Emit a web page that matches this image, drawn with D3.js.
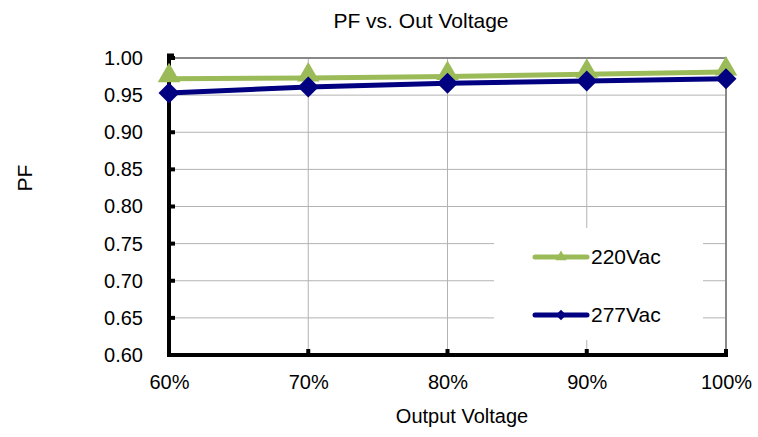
<!DOCTYPE html>
<html>
<head>
<meta charset="utf-8">
<script src="https://cdn.jsdelivr.net/npm/d3@7"></script>
<style>
  body { margin: 0; background: #fff; }
  text { font-family: "Liberation Sans", Arial, sans-serif; fill: #000; }
</style>
</head>
<body>
<div id="wrapper"></div>
<script>
// data
const categories = ["60%", "70%", "80%", "90%", "100%"]
const seriesNames = ["220Vac", "277Vac"]
const values220 = [0.972, 0.973, 0.975, 0.978, 0.981]
const values277 = [0.953, 0.961, 0.966, 0.969, 0.972]
const yTicks = [0.60, 0.65, 0.70, 0.75, 0.80, 0.85, 0.90, 0.95, 1.00]

function drawChart() {
  let dimensions = {
    width: 758,
    height: 437,
    margin: { top: 58, right: 32, bottom: 82, left: 169 }
  }
  dimensions.boundedWidth = dimensions.width - dimensions.margin.left - dimensions.margin.right
  dimensions.boundedHeight = dimensions.height - dimensions.margin.top - dimensions.margin.bottom

  const wrapper = d3.select("#wrapper")
    .append("svg")
      .attr("width", dimensions.width)
      .attr("height", dimensions.height)

  const bounds = wrapper.append("g")
    .attr("transform", `translate(${dimensions.margin.left},${dimensions.margin.top})`)

  // scales
  const xScale = d3.scalePoint()
    .domain(categories)
    .range([0, dimensions.boundedWidth])

  const yScale = d3.scaleLinear()
    .domain([0.60, 1.00])
    .range([dimensions.boundedHeight, 0])

  // gridlines
  bounds.append("g")
    .selectAll("line")
    .data(yTicks)
    .enter().append("line")
      .attr("x1", 0)
      .attr("x2", dimensions.boundedWidth)
      .attr("y1", d => yScale(d))
      .attr("y2", d => yScale(d))
      .attr("stroke", "#b3b3b3")
      .attr("stroke-width", 1)

  bounds.append("g")
    .selectAll("line")
    .data(categories.slice(1, -1))
    .enter().append("line")
      .attr("x1", d => xScale(d))
      .attr("x2", d => xScale(d))
      .attr("y1", 0)
      .attr("y2", dimensions.boundedHeight)
      .attr("stroke", "#b3b3b3")
      .attr("stroke-width", 1)

  // plot border (top & right)
  bounds.append("path")
    .attr("d", `M0,0 H${dimensions.boundedWidth} V${dimensions.boundedHeight}`)
    .attr("fill", "none")
    .attr("stroke", "#888")
    .attr("stroke-width", 2)

  // legend box (covers gridlines)
  const legend = bounds.append("g")
  legend.append("rect")
    .attr("x", 325)
    .attr("y", 170)
    .attr("width", 209)
    .attr("height", 112)
    .attr("fill", "#fff")

  // axes
  const yAxisGenerator = d3.axisLeft(yScale)
    .tickValues(yTicks)
    .tickFormat(d3.format(".2f"))
    .tickSize(0)
    .tickPadding(26)
  const yAxis = bounds.append("g").call(yAxisGenerator)
  yAxis.select(".domain").remove()
  yAxis.selectAll("text").style("font-size", "20px")

  const xAxisGenerator = d3.axisBottom(xScale)
    .tickSize(0)
    .tickPadding(20)
  const xAxis = bounds.append("g")
    .attr("transform", `translate(0,${dimensions.boundedHeight})`)
    .call(xAxisGenerator)
  xAxis.select(".domain").remove()
  xAxis.selectAll("text").style("font-size", "20px")

  // thick axis lines with small inner ticks
  bounds.append("line")
    .attr("x1", 0).attr("x2", 0)
    .attr("y1", -3).attr("y2", dimensions.boundedHeight + 2)
    .attr("stroke", "#000").attr("stroke-width", 4)
  bounds.append("line")
    .attr("x1", -2).attr("x2", 5)
    .attr("y1", -3).attr("y2", -3)
    .attr("stroke", "#000").attr("stroke-width", 3)
  bounds.append("line")
    .attr("x1", -2).attr("x2", dimensions.boundedWidth + 2)
    .attr("y1", dimensions.boundedHeight).attr("y2", dimensions.boundedHeight)
    .attr("stroke", "#000").attr("stroke-width", 4)

  bounds.append("g")
    .selectAll("rect")
    .data(yTicks.slice(1))
    .enter().append("rect")
      .attr("x", 0)
      .attr("y", d => yScale(d) - 2)
      .attr("width", 6)
      .attr("height", 4)
      .attr("fill", "#000")

  bounds.append("g")
    .selectAll("rect")
    .data(categories.slice(1))
    .enter().append("rect")
      .attr("x", d => xScale(d) - 2)
      .attr("y", dimensions.boundedHeight - 6)
      .attr("width", 4)
      .attr("height", 6)
      .attr("fill", "#000")

  // series
  const series = [
    { name: seriesNames[0], values: values220, color: "#9bbb59", marker: "triangle" },
    { name: seriesNames[1], values: values277, color: "#000080", marker: "diamond" }
  ]

  const markerPath = (type, big) => type === "triangle"
    ? d3.symbol().type(d3.symbolTriangle).size(big ? 220 : 55)()
    : d3.symbol().type(d3.symbolSquare).size(big ? 220 : 55)()
  const markerRotate = type => type === "triangle" ? "" : " rotate(45)"

  const lineGenerator = d3.line()
    .x((d, i) => xScale(categories[i]))
    .y(d => yScale(d))

  series.forEach(s => {
    bounds.append("path")
      .datum(s.values)
      .attr("d", lineGenerator)
      .attr("fill", "none")
      .attr("stroke", s.color)
      .attr("stroke-width", 5)
    bounds.append("g")
      .selectAll("path")
      .data(s.values)
      .enter().append("path")
        .attr("d", markerPath(s.marker, true))
        .attr("transform", (d, i) => `translate(${xScale(categories[i])},${yScale(d) - (s.marker === "triangle" ? 3 : 0)})${markerRotate(s.marker)}`)
        .attr("fill", s.color)
  })

  // legend entries
  series.forEach((s, i) => {
    const ly = 199 + i * 58
    legend.append("line")
      .attr("x1", 366).attr("x2", 418)
      .attr("y1", ly).attr("y2", ly)
      .attr("stroke", s.color)
      .attr("stroke-width", 5)
      .attr("stroke-linecap", "round")
    legend.append("path")
      .attr("d", markerPath(s.marker, false))
      .attr("transform", `translate(392,${ly})${markerRotate(s.marker)}`)
      .attr("fill", s.color)
    legend.append("text")
      .attr("x", 422)
      .attr("y", ly + 7)
      .style("font-size", "21px")
      .text(s.name)
  })

  // labels
  wrapper.append("text")
    .attr("x", 421)
    .attr("y", 28)
    .attr("text-anchor", "middle")
    .style("font-size", "21px")
    .text("PF vs. Out Voltage")

  wrapper.append("text")
    .attr("x", 462)
    .attr("y", 423)
    .attr("text-anchor", "middle")
    .style("font-size", "20px")
    .text("Output Voltage")

  wrapper.append("text")
    .attr("transform", "translate(32,178) rotate(-90)")
    .attr("text-anchor", "middle")
    .style("font-size", "21px")
    .text("PF")
}

drawChart()
</script>
</body>
</html>
